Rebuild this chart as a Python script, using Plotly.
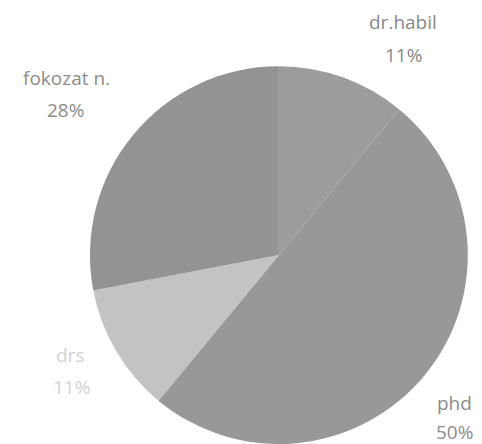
import plotly.graph_objects as go

labels = ["dr.habil", "phd", "drs", "fokozat n."]
values = [11, 50, 11, 28]
colors = ["#9c9c9c", "#989898", "#c3c3c3", "#939393"]
label_colors = ["#888888", "#8c8c8c", "#d2d2d2", "#8c8c8c"]

W, H = 482, 444
OFF = 8  # browser body margin
# label anchor centres in window pixels (name line, percent line)
label_pos = {
    "dr.habil": ((403, 22), (403, 55)),
    "phd": ((454, 403), (454, 432)),
    "drs": ((70, 355), (71, 387)),
    "fokozat n.": ((66, 78), (65, 110)),
}

fig = go.Figure(go.Pie(
    labels=labels, values=values, sort=False, direction="clockwise", rotation=0,
    marker=dict(colors=colors, line=dict(width=0)),
    textinfo="none", hoverinfo="label+percent", showlegend=False,
    domain=dict(x=[0.170, 0.954], y=[0.018, 0.869]),
))

total = sum(values)
for lab, val, col in zip(labels, values, label_colors):
    (nx, ny), (px, py) = label_pos[lab]
    for txt, (x, y) in ((lab, (nx, ny)), (f"{round(100*val/total)}%", (px, py))):
        fig.add_annotation(text=txt, x=(x - OFF) / W, y=1 - (y - OFF) / H,
                           xref="paper", yref="paper",
                           showarrow=False, xanchor="center", yanchor="middle",
                           font=dict(family="Open Sans", size=19, color=col))

fig.update_layout(width=W, height=H, margin=dict(l=0, r=0, t=0, b=0),
                  paper_bgcolor="white", plot_bgcolor="white")
fig.write_html("out.html")
